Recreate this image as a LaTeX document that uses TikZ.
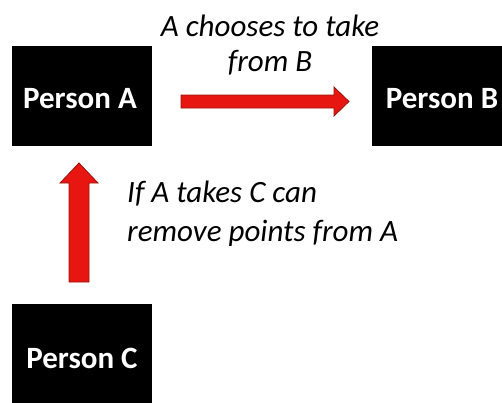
\documentclass[tikz,border=0pt]{standalone}
\usepackage{fontspec}
\setmainfont{Carlito}
\begin{document}
\begin{tikzpicture}[x=1pt,y=-1pt,
  personbox/.style={fill=black, text=white, inner sep=0pt, font=\fontsize{31}{33}\selectfont\bfseries},
  lbl/.style={font=\fontsize{31}{33}\selectfont\itshape, inner sep=0pt},
  redarrow/.style={fill={rgb,255:red,232;green,22;blue,16}, draw={rgb,255:red,150;green,20;blue,15}, line width=0.8pt}]
\useasboundingbox (0,0) rectangle (502,402);
\begin{scope}
\clip (0,0) rectangle (502,402);
\fill[black] (12,46) rectangle (152,146);
\fill[black] (372,46) rectangle (520,146);
\fill[black] (12,304) rectangle (152,420);
\end{scope}
\node[personbox] (a) at (80,99) {Person A};
\node[personbox] (b) at (442,99) {Person B};
\node[personbox] (c) at (82,358) {Person C};
% right arrow
\draw[redarrow] (181,95) -- (334,95) -- (334,87) -- (349,101.5) -- (334,116) -- (334,108) -- (181,108) -- cycle;
% up arrow
\draw[redarrow] (69,282) -- (69,183) -- (60,183) -- (79,163) -- (98,183) -- (89,183) -- (89,282) -- cycle;
\node[lbl] (t1) at (270,26) {A chooses to take};
\node[lbl] (t2) at (270,63) {from B};
\node[lbl, anchor=west] (t3) at (127,194) {If A takes C can};
\node[lbl, anchor=west] (t4) at (127,233) {remove points from A};
\end{tikzpicture}
\end{document}
